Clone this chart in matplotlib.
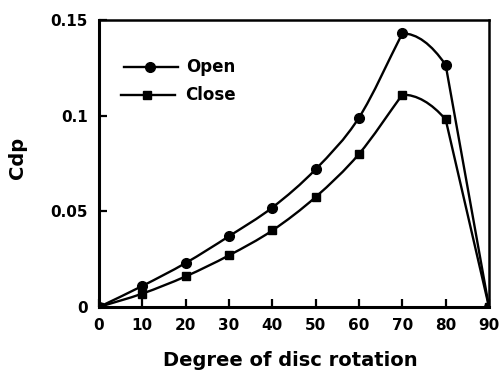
import numpy as np
import matplotlib
matplotlib.use('Agg')
import matplotlib.pyplot as plt
from matplotlib.path import Path
from matplotlib.patches import PathPatch

plt.rcParams['font.family'] = ['DejaVu Sans']
plt.rcParams['font.weight'] = 'bold'

degrees = [0, 10, 20, 30, 40, 50, 60, 70, 80, 90]
cdp_open = [0.0, 0.011, 0.023, 0.037, 0.052, 0.072, 0.099, 0.143, 0.1265, 0.0]
cdp_close = [0.0, 0.007, 0.016, 0.027, 0.040, 0.0575, 0.080, 0.111, 0.098, 0.0]
y_ticks = [0, 0.05, 0.1, 0.15]
y_labels = ['0', '0.05', '0.1', '0.15']


def smooth_path(x, y):
    # hermite curve through the points: catmull-rom slopes, but a corner
    # at the peak and a straight drop in the last segment (like the original)
    x = np.asarray(x, float)
    y = np.asarray(y, float)
    n = len(x)
    h = np.diff(x)
    d = np.diff(y) / h
    m_left = np.zeros(n)
    m_right = np.zeros(n)
    m_left[0] = m_right[0] = d[0]
    m_left[-1] = m_right[-1] = d[-1]
    for i in range(1, n - 1):
        m = (y[i + 1] - y[i - 1]) / (x[i + 1] - x[i - 1])
        m_left[i] = m_right[i] = m
    for i in range(1, n - 1):
        if d[i - 1] > 0 and d[i] < 0:
            m_left[i] = d[i - 1]
            m_right[i] = 0.0
            m_left[i + 1] = 2 * d[i]
    m_right[n - 2] = d[-1]
    verts = [(x[0], y[0])]
    codes = [Path.MOVETO]
    for i in range(n - 1):
        verts += [(x[i] + h[i] / 3, y[i] + m_right[i] * h[i] / 3),
                  (x[i + 1] - h[i] / 3, y[i + 1] - m_left[i + 1] * h[i] / 3),
                  (x[i + 1], y[i + 1])]
        codes += [Path.CURVE4] * 3
    return Path(verts, codes)


fig = plt.figure(figsize=(5.02, 3.76), dpi=100)
ax = fig.add_axes([99 / 502, 1 - 307 / 376, 390 / 502, 287 / 376])

for ys in (cdp_open, cdp_close):
    ax.add_patch(PathPatch(smooth_path(degrees, ys), fill=False,
                           lw=1.7, color='black', zorder=2))

ax.plot(degrees, cdp_open, 'o', color='black', ms=7, zorder=3)
ax.plot(degrees, cdp_close, 's', color='black', ms=6, zorder=3)

# legend drawn by hand like the original
ax.plot([5.8, 18.2], [0.1255, 0.1255], '-', color='black', lw=1.7)
ax.plot([11.8], [0.1255], 'o', color='black', ms=7)
ax.text(20, 0.1255, 'Open', fontsize=12, fontweight='bold', va='center')
ax.plot([5.1, 17.5], [0.1109, 0.1109], '-', color='black', lw=1.7)
ax.plot([11.0], [0.1109], 's', color='black', ms=6)
ax.text(19.8, 0.1109, 'Close', fontsize=12, fontweight='bold', va='center')

ax.set_xlim(0, 90)
ax.set_ylim(0, 0.15)
ax.set_xticks(degrees)
ax.set_yticks(y_ticks)
ax.set_yticklabels(y_labels)
ax.tick_params(direction='in', length=6, width=1.6, labelsize=11, pad=8)
for lab in ax.get_xticklabels() + ax.get_yticklabels():
    lab.set_fontweight('bold')

for side in ['left', 'bottom']:
    ax.spines[side].set_linewidth(2.2)
for side in ['top', 'right']:
    ax.spines[side].set_linewidth(1.8)

ax.set_xlabel('Degree of disc rotation', fontsize=14, fontweight='bold')
ax.set_ylabel('Cdp', fontsize=14, fontweight='bold')
ax.xaxis.set_label_coords(0.49, -0.188)
ax.yaxis.set_label_coords(-0.21, 0.52)
ax.xaxis.label.set_va('center')
ax.yaxis.label.set_va('center')

fig.savefig('out.png', dpi=100)
